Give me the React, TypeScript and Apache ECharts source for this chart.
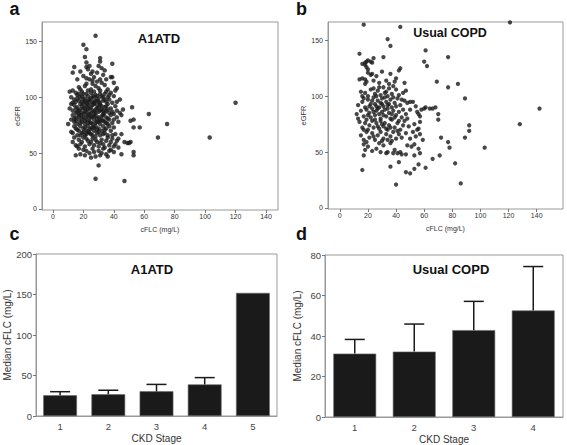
import React, { useEffect, useRef } from "react";
import * as echarts from "echarts";

// ---- Data ----
const a1atdScatter: number[][] = [
  [28,155],[20,147],[22,143],[21,136],[31,135],[31,132],[22,131],[39,130],[30,128],[14,127],[22,127],[32,126],[23,125],[34,124],[24,128],[26,123],
  [13,122],[18,123],[29,122],[25,121],[27,118],[38,118],[39,118],[35,116],[31,116],[24,116],[16,116],[20,119],[33,120],[26,115],[22,117],[29,114],
  [40,113],[34,111],[42,108],[41,106],[22,112],[28,110],[17,109],[19,105],[25,107],[30,108],[36,107],[13,106],[15,104],[21,110],[32,113],[27,105],[38,104],[11,105],[18,107],[23,106],[35,105],[26,112],[31,106],[44,98],
  [12,100],[14,98],[16,102],[17,97],[18,100],[19,96],[20,103],[21,99],[22,95],[23,101],[24,98],[25,104],[26,96],[27,100],[28,102],[29,97],[30,99],[31,95],[32,101],[33,97],[34,103],[35,96],[36,100],[37,98],[39,95],[40,101],[15,96],[19,101],[23,97],[27,95],[31,103],[25,99],[29,101],[21,96],[33,100],[17,103],[24,95],[37,102],[42,96],[20,98],[26,101],[30,96],[34,98],[22,103],[28,97],[16,99],[13,95],
  [11,90],[13,88],[14,93],[15,86],[16,91],[17,88],[18,94],[19,86],[20,90],[21,87],[22,92],[23,89],[24,85],[25,91],[26,88],[27,94],[28,86],[29,90],[30,87],[31,93],[32,89],[33,85],[34,91],[35,88],[36,94],[37,86],[38,90],[39,87],[41,92],[42,88],[44,86],[46,89],[52,91],[63,85],[18,89],[22,87],[26,93],[30,91],[34,86],[20,94],[24,90],[28,89],[32,92],[36,89],[40,85],[16,87],[12,94],[19,92],[23,93],[27,87],[31,88],[35,92],[21,90],[25,86],[29,93],[33,88],[15,90],[17,85],
  [10,76],[12,80],[13,84],[14,78],[15,82],[16,76],[17,80],[18,84],[19,78],[20,82],[21,76],[22,80],[23,84],[24,78],[25,82],[26,76],[27,80],[28,84],[29,78],[30,82],[31,76],[32,80],[33,84],[34,78],[35,82],[36,76],[37,80],[38,84],[39,77],[42,82],[45,84],[53,80],[51,79],[75,76],[120,95],[17,83],[21,79],[25,77],[29,81],[33,79],[19,81],[23,77],[27,83],[31,79],[35,77],[40,80],[43,78],[15,79],[24,81],[28,77],[20,85],[26,83],[30,78],[22,83],[18,77],[32,83],[36,81],[14,81],
  [12,69],[13,68],[15,72],[16,66],[17,70],[18,74],[19,68],[20,72],[21,66],[22,70],[23,74],[24,68],[25,72],[26,66],[27,70],[28,74],[29,68],[30,72],[31,66],[32,70],[33,74],[34,68],[35,72],[36,66],[38,70],[40,73],[41,67],[45,67],[53,73],[57,73],[103,64],[22,67],[26,73],[30,69],[20,69],[24,71],[28,65],[34,71],[14,74],[18,66],[39,66],[16,71],[21,73],[25,67],[29,71],[33,67],[37,74],[23,69],[27,73],
  [13,60],[15,57],[17,62],[18,58],[20,64],[21,56],[23,61],[24,58],[26,63],[27,57],[29,60],[30,56],[32,62],[33,58],[35,61],[37,57],[39,63],[43,63],[47,60],[49,59],[50,59],[51,60],[69,64],[19,60],[25,60],[31,59],[36,64],[41,58],[22,63],[28,62],[16,56],[14,64],[34,55],[38,60],[42,61],[40,56],
  [15,48],[18,49],[21,48],[22,52],[24,50],[26,54],[28,47],[30,52],[32,50],[35,49],[36,47],[40,51],[45,49],[53,51],[53,48],[20,53],[27,51],[33,54],[38,53],[25,46],[17,54],[31,48],[37,52],[43,55],
  [30,39],[28,27],[47,25]
];

const copdScatter: number[][] = [
  [17,164],[43,162],[121,166],[34,151],[36,145],[61,141],
  [14,138],[24,134],[31,135],[60,131],[62,127],[77,135],[18,130],[19,131],[20,132],[22,131],[23,130],[18,128],[19,126],[43,125],[16,129],
  [20,124],[42,123],[30,122],[23,120],[22,119],[20,121],[14,115],[16,116],[18,115],[19,113],[18,111],[40,116],[39,113],[46,112],[69,113],[84,111],[26,118],[33,114],[36,120],[28,112],[24,114],[35,111],
  [77,108],[15,104],[18,103],[22,106],[25,102],[27,105],[29,101],[31,108],[33,104],[35,107],[37,102],[40,106],[42,101],[45,103],[20,100],[24,107],[34,100],[38,109],[28,108],[32,103],[16,100],[47,105],[26,100],
  [89,98],[13,92],[16,95],[18,90],[20,97],[22,93],[24,99],[26,91],[27,96],[29,94],[30,98],[31,91],[33,95],[34,92],[36,97],[37,90],[39,94],[41,98],[43,92],[46,96],[48,94],[50,95],[52,95],[54,91],[25,93],[28,90],[32,99],[35,93],[40,91],[23,96],[17,98],[21,91],[44,97],[38,99],[30,93],
  [142,89],[12,84],[13,80],[15,87],[17,82],[19,88],[21,85],[22,81],[24,86],[25,83],[27,89],[28,84],[29,80],[30,86],[32,88],[33,82],[35,85],[36,80],[38,87],[40,83],[42,86],[44,81],[47,84],[50,88],[55,86],[57,82],[58,88],[60,89],[61,90],[56,84],[70,84],[64,89],[66,89],[68,90],[26,87],[31,83],[34,89],[39,81],[45,88],[20,83],[23,89],[37,84],[48,80],
  [128,75],[92,74],[14,77],[16,72],[18,76],[20,70],[21,74],[23,78],[24,72],[26,76],[28,71],[29,78],[31,73],[32,76],[34,70],[35,74],[37,79],[39,72],[41,76],[43,70],[46,78],[49,73],[53,75],[56,71],[57,77],[70,79],[25,79],[30,75],[36,72],[42,78],[19,79],[33,71],[27,73],[17,70],[45,74],[55,70],
  [92,69],[89,63],[72,63],[15,65],[17,61],[19,68],[21,63],[23,67],[25,61],[27,65],[29,68],[31,62],[33,66],[34,61],[36,64],[38,68],[40,62],[42,66],[44,63],[47,67],[50,62],[54,64],[57,66],[59,61],[24,64],[30,60],[37,60],[41,69],[52,68],
  [103,54],[77,59],[78,54],[17,57],[18,52],[20,55],[23,51],[26,53],[29,50],[31,56],[34,50],[36,58],[39,52],[41,49],[43,50],[44,48],[48,56],[51,55],[53,57],[56,53],[19,59],[28,58],
  [71,47],[66,44],[82,40],[17,47],[57,49],[53,47],[42,41],[38,49],[33,49],[47,48],
  [86,22],[40,21],[16,34],[36,37],[47,32],[50,31],[53,35],[56,39],[61,36]
];

const stagesA1ATD = ["1", "2", "3", "4", "5"];
const medianA1ATD = [25.6, 26.8, 30.5, 39, 152];
const upperA1ATD: (number | null)[] = [30, 31.8, 39, 47.4, null];

const stagesCOPD = ["1", "2", "3", "4"];
const medianCOPD = [31.3, 32.3, 42.9, 52.6];
const upperCOPD = [38.3, 45.9, 57.1, 74.3];

const scatterXTicks = [0, 20, 40, 60, 80, 100, 120, 140];
const scatterYTicks = [0, 50, 100, 150];

const FONT = '"Liberation Sans", Arial, sans-serif';
const INK = "#1a1a1a";

function scatterX(gridIndex: number, min: number, max: number) {
  return {
    gridIndex, type: "value", min, max,
    axisLine: { show: false, onZero: false },
    axisTick: { show: true, customValues: scatterXTicks, length: 3, lineStyle: { color: "#777" } },
    axisLabel: { customValues: scatterXTicks, fontSize: 7, color: "#333", margin: 3, fontFamily: FONT },
    splitLine: { show: false },
    name: "cFLC (mg/L)", nameLocation: "middle", nameGap: 16,
    nameTextStyle: { fontSize: 7, color: "#333", fontFamily: FONT },
  };
}
function scatterY(gridIndex: number, min: number, max: number) {
  return {
    gridIndex, type: "value", min, max,
    axisLine: { show: true, onZero: false, lineStyle: { color: "#999" } },
    axisTick: { show: true, customValues: scatterYTicks, length: 3, lineStyle: { color: "#777" } },
    axisLabel: { customValues: scatterYTicks, fontSize: 7, color: "#333", margin: 5, fontFamily: FONT },
    splitLine: { show: false },
    name: "eGFR", nameLocation: "middle", nameGap: 17, nameRotate: 90,
    nameTextStyle: { fontSize: 7.5, color: "#333", fontFamily: FONT },
  };
}
function barX(gridIndex: number, cats: string[]) {
  return {
    gridIndex, type: "category", data: cats,
    axisLine: { show: true, lineStyle: { color: "#999" } },
    axisTick: { show: false },
    axisLabel: { fontSize: 9.5, color: "#444", margin: 5, fontFamily: FONT },
    name: "CKD Stage", nameLocation: "middle", nameGap: 17,
    nameTextStyle: { fontSize: 10, color: "#333", fontFamily: FONT },
  };
}
function barY(gridIndex: number, max: number, interval: number) {
  return {
    gridIndex, type: "value", min: 0, max, interval,
    axisLine: { show: true, onZero: false, lineStyle: { color: "#999" } },
    axisTick: { show: true, length: 3, lineStyle: { color: "#777" } },
    axisLabel: { fontSize: 9.5, color: "#444", margin: 4, fontFamily: FONT },
    splitLine: { show: false },
    name: "Median cFLC (mg/L)", nameLocation: "middle", nameGap: 23, nameRotate: 90,
    nameTextStyle: { fontSize: 10, color: "#333", fontFamily: FONT },
  };
}

const renderErr = (_params: any, api: any) => {
  const idx = api.value(0);
  const lo = api.coord([idx, api.value(1)]);
  const hi = api.coord([idx, api.value(2)]);
  const half = 10;
  return {
    type: "group",
    children: [
      { type: "line", shape: { x1: lo[0], y1: lo[1], x2: hi[0], y2: hi[1] }, style: { stroke: INK, lineWidth: 1.5 } },
      { type: "line", shape: { x1: hi[0] - half, y1: hi[1], x2: hi[0] + half, y2: hi[1] }, style: { stroke: INK, lineWidth: 1.5 } },
    ],
  };
};

function errData(med: number[], up: (number | null)[]) {
  const out: number[][] = [];
  med.forEach((m, i) => {
    const u = up[i];
    if (u != null) out.push([i, m, u]);
  });
  return out;
}

function txt(text: string, x: number, y: number, size: number, align: string) {
  return {
    type: "text", x, y, silent: true,
    style: { text, fontSize: size, fontWeight: "bold", fontFamily: FONT, fill: "#111", align, verticalAlign: "middle" },
  };
}

export default function App() {
  const ref = useRef<HTMLDivElement>(null);
  useEffect(() => {
    if (!ref.current) return;
    const chart = echarts.init(ref.current, null, { renderer: "svg" });
    const gridStyle = { show: true, borderColor: "#999", borderWidth: 1, backgroundColor: "transparent" };
    chart.setOption({
      animation: false,
      backgroundColor: "#fff",
      grid: [
        { left: 42, top: 22, width: 236, height: 188, ...gridStyle },
        { left: 328, top: 22, width: 235, height: 187, ...gridStyle },
        { left: 36, top: 254, width: 241, height: 162, ...gridStyle },
        { left: 325, top: 255, width: 238, height: 162, ...gridStyle },
      ],
      xAxis: [
        scatterX(0, -7.2, 147.9),
        scatterX(1, -8.4, 158.7),
        barX(2, stagesA1ATD),
        barX(3, stagesCOPD),
      ],
      yAxis: [
        scatterY(0, -0.9, 167.3),
        scatterY(1, -0.9, 166.4),
        barY(2, 200, 50),
        barY(3, 80, 20),
      ],
      series: [
        { type: "scatter", xAxisIndex: 0, yAxisIndex: 0, data: a1atdScatter, symbolSize: 4.5, itemStyle: { color: INK } },
        { type: "scatter", xAxisIndex: 1, yAxisIndex: 1, data: copdScatter, symbolSize: 4.3, itemStyle: { color: INK } },
        { type: "bar", xAxisIndex: 2, yAxisIndex: 2, data: medianA1ATD, barCategoryGap: "30%", itemStyle: { color: INK, borderColor: "#666", borderWidth: 0.6 } },
        { type: "bar", xAxisIndex: 3, yAxisIndex: 3, data: medianCOPD, barCategoryGap: "28%", itemStyle: { color: INK, borderColor: "#666", borderWidth: 0.6 } },
        { type: "custom", xAxisIndex: 2, yAxisIndex: 2, data: errData(medianA1ATD, upperA1ATD), renderItem: renderErr, encode: { x: 0, y: [1, 2] }, z: 3 },
        { type: "custom", xAxisIndex: 3, yAxisIndex: 3, data: errData(medianCOPD, upperCOPD), renderItem: renderErr, encode: { x: 0, y: [1, 2] }, z: 3 },
      ],
      graphic: [
        txt("a", 9.5, 9, 18, "left"),
        txt("b", 296, 9, 18, "left"),
        txt("c", 9.5, 234, 18, "left"),
        txt("d", 296, 234, 18, "left"),
        txt("A1ATD", 159, 38, 13, "center"),
        txt("Usual COPD", 450, 33, 12.5, "center"),
        txt("A1ATD", 152, 269, 13, "center"),
        txt("Usual COPD", 451, 269, 13, "center"),
      ],
    });
    return () => chart.dispose();
  }, []);
  return <div ref={ref} style={{ position: "absolute", left: 0, top: 0, width: 567, height: 445 }} />;
}
